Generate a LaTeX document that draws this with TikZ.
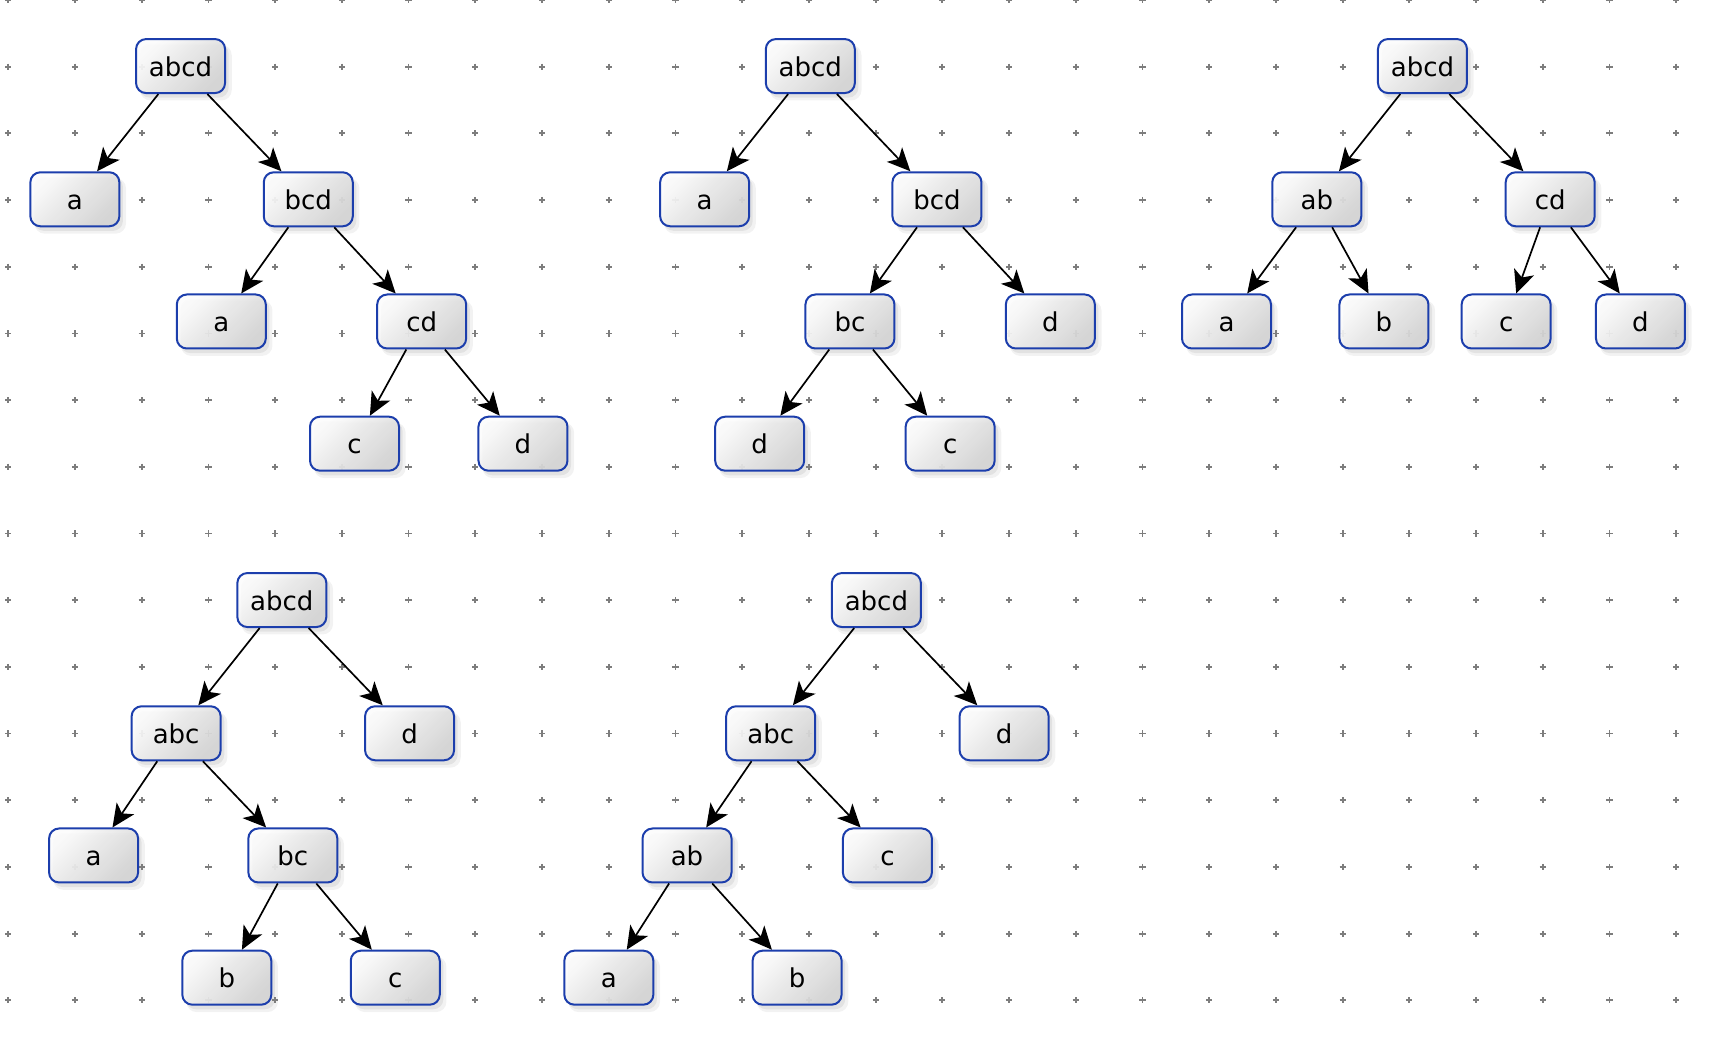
\documentclass[tikz,border=0pt]{standalone}
\usepackage{fontspec}
\setmainfont{DejaVu Sans}
\usetikzlibrary{arrows.meta,shadows}
\definecolor{boxblue}{RGB}{28,62,172}
\definecolor{dotgray}{RGB}{125,125,125}
\tikzset{
  treenode/.style={draw=boxblue, line width=1pt, rounded corners=5pt,
    minimum width=44.5pt, minimum height=27pt,
    text height=10pt, text depth=0pt,
    top color=gray!2, bottom color=gray!34, shading angle=45,
    fill opacity=0.92, text opacity=1,
    drop shadow={shadow xshift=2.6pt, shadow yshift=-3.2pt, shadow scale=1.03, opacity=0.1},
    drop shadow={shadow xshift=1.8pt, shadow yshift=-2.3pt, opacity=0.14},
    font=\fontsize{13}{15}\selectfont},
  treeedge/.style={-{Stealth[length=11.5pt,width=10.5pt,inset=3pt]}, line width=0.85pt},
  gridmark/.style={dotgray, line width=0.9pt}
}
\begin{document}
\begin{tikzpicture}[x=0.5505pt, y=-0.5505pt]
      \useasboundingbox (0,0) rectangle (1567.7,959.1);
      \foreach \i in {0,...,25}
        \foreach \j in {0,...,15}
          \draw[gridmark] (7.5+60.6*\i,60.57*\j) +(-2.8,0) -- +(2.8,0) +(0,-2.8) -- +(0,2.8);
      % first tree
      \draw
        (164,60) node[treenode] (t1r){abcd}
        (68,181) node[treenode] (t1a){a}
        (280,181) node[treenode] (t1bcd){bcd}
        (201,292) node[treenode] (t1aa){a}
        (383,292) node[treenode] (t1cd){cd}
        (322,403) node[treenode] (t1c){c}
        (475,403) node[treenode] (t1d){d};
      % second tree
      \draw
        (736,60) node[treenode] (t2r){abcd}
        (640,181) node[treenode] (t2a){a}
        (851,181) node[treenode] (t2bcd){bcd}
        (772,292) node[treenode] (t2bc){bc}
        (954,292) node[treenode] (t2d){d}
        (690,403) node[treenode] (t2dd){d}
        (863,403) node[treenode] (t2c){c};
      % third tree
      \draw
        (1292,60) node[treenode] (t3r){abcd}
        (1196,181) node[treenode] (t3ab){ab}
        (1408,181) node[treenode] (t3cd){cd}
        (1114,292) node[treenode] (t3a){a}
        (1257,292) node[treenode] (t3b){b}
        (1368,292) node[treenode] (t3c){c}
        (1490,292) node[treenode] (t3d){d};
      % fourth tree
      \draw
        (256,545) node[treenode] (t4r){abcd}
        (160,666) node[treenode] (t4abc){abc}
        (372,666) node[treenode] (t4d){d}
        (85,777) node[treenode] (t4a){a}
        (266,777) node[treenode] (t4bc){bc}
        (206,888) node[treenode] (t4b){b}
        (359,888) node[treenode] (t4c){c};
      % fifth tree
      \draw
        (796,545) node[treenode] (t5r){abcd}
        (700,666) node[treenode] (t5abc){abc}
        (912,666) node[treenode] (t5d){d}
        (624,777) node[treenode] (t5ab){ab}
        (806,777) node[treenode] (t5c){c}
        (553,888) node[treenode] (t5a){a}
        (724,888) node[treenode] (t5b){b};
      \begin{scope}[treeedge]
        \draw (t1r) to (t1a);
        \draw (t1r) to (t1bcd);
        \draw (t1bcd) to (t1aa);
        \draw (t1bcd) to (t1cd);
        \draw (t1cd) to (t1c);
        \draw (t1cd) to (t1d);
        \draw (t2r) to (t2a);
        \draw (t2r) to (t2bcd);
        \draw (t2bcd) to (t2bc);
        \draw (t2bcd) to (t2d);
        \draw (t2bc) to (t2dd);
        \draw (t2bc) to (t2c);
        \draw (t3r) to (t3ab);
        \draw (t3r) to (t3cd);
        \draw (t3ab) to (t3a);
        \draw (t3ab) to (t3b);
        \draw (t3cd) to (t3c);
        \draw (t3cd) to (t3d);
        \draw (t4r) to (t4abc);
        \draw (t4r) to (t4d);
        \draw (t4abc) to (t4a);
        \draw (t4abc) to (t4bc);
        \draw (t4bc) to (t4b);
        \draw (t4bc) to (t4c);
        \draw (t5r) to (t5abc);
        \draw (t5r) to (t5d);
        \draw (t5abc) to (t5ab);
        \draw (t5abc) to (t5c);
        \draw (t5ab) to (t5a);
        \draw (t5ab) to (t5b);
      \end{scope}
    \end{tikzpicture}
\end{document}
